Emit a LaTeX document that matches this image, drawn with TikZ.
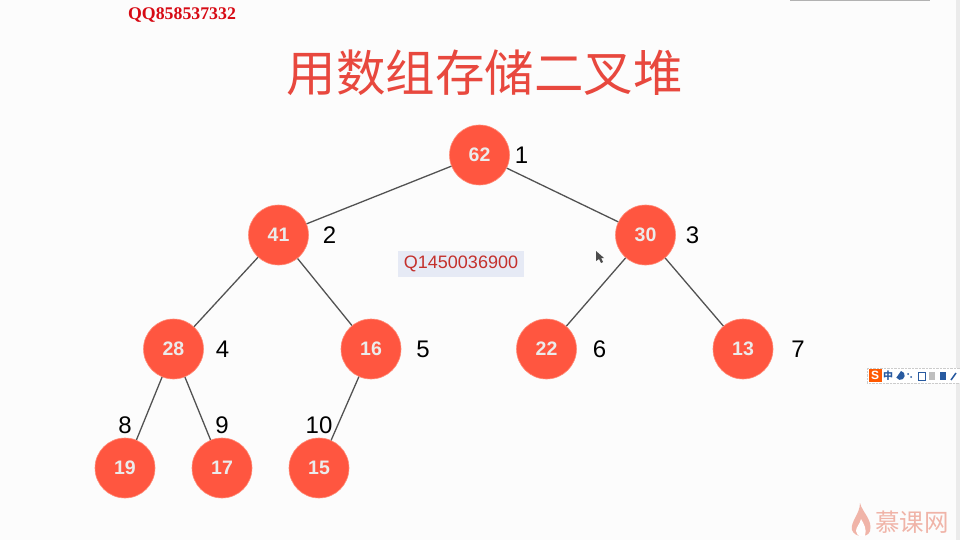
\documentclass[tikz,border=0pt]{standalone}
\usepackage{fontspec}
\setmainfont{Liberation Sans}
\newfontfamily\cjkfont{Noto Sans CJK SC}
\newfontfamily\serifbold[BoldFont={Liberation Serif Bold}]{Liberation Serif}
\usetikzlibrary{positioning}
\definecolor{heapred}{RGB}{255, 86, 64}
\definecolor{heapring}{RGB}{255, 140, 120}
\definecolor{titlered}{RGB}{232, 72, 62}
\definecolor{qqred}{RGB}{215, 10, 20}
\definecolor{tagblue}{RGB}{230, 234, 245}
\definecolor{tagred}{RGB}{196, 48, 44}
\definecolor{markpink}{RGB}{240, 180, 168}
\definecolor{barblue}{RGB}{40, 90, 160}
\tikzstyle{heapnode} = [circle, draw=heapring, line width=0.6pt, fill=heapred, text=white!92!black, text centered, font=\bfseries\fontsize{19.5}{20}\selectfont, minimum size = 60pt, inner sep=0pt]
\tikzstyle{textonly} = [draw=none, fill=none, text centered, inner sep=0pt, font=\fontsize{24}{24}\selectfont]
\tikzstyle{tedge}  = [draw, line width=1.3pt, black!68]
\tikzstyle{barglyph} = [inner sep=0pt, text=barblue, font=\cjkfont\bfseries\fontsize{10}{10}\selectfont]

\begin{document}
\begin{tikzpicture}[on grid]
\useasboundingbox[fill=white!99!black] (0pt,0pt) rectangle (960pt,-540pt);
\fill[black!8] (956pt,0pt) rectangle (960pt,-540pt);
\fill[black!30] (790pt,0pt) rectangle (930pt,-1.5pt);

% titles =============================
\node[inner sep=0pt, text=titlered, font=\cjkfont\fontsize{49.5}{50}\selectfont] (title) at (484.5pt,-73pt) {用数组存储二叉堆};
\node[inner sep=0pt, text=qqred, font=\serifbold\bfseries\fontsize{17.8}{18}\selectfont] (qq) at (182pt,-15.5pt) {QQ858537332};
\node[fill=tagblue, text=tagred, inner sep=0pt, minimum width=126pt, minimum height=26pt, font=\fontsize{18}{18}\selectfont] (tag) at (461pt,-264pt) {Q1450036900};

% heap nodes =============================
\node[heapnode] (n62) at (479.5pt,-155pt) {62};
\node[heapnode, below left=80pt and 201pt of n62] (n41) {41};
\node[heapnode, below right=80pt and 166pt of n62] (n30) {30};
\node[heapnode, below left=114pt and 105pt of n41] (n28) {28};
\node[heapnode, below right=114pt and 92.5pt of n41] (n16) {16};
\node[heapnode, below left=114pt and 99pt of n30] (n22) {22};
\node[heapnode, below right=114pt and 97.5pt of n30] (n13) {13};
\node[heapnode, below left=119pt and 48.5pt of n28] (n19) {19};
\node[heapnode, below right=119pt and 48.5pt of n28] (n17) {17};
\node[heapnode, below left=119pt and 52pt of n16] (n15) {15};

% indices
\node[textonly, right=42pt of n62] (i1) {1};
\node[textonly, right=51pt of n41] (i2) {2};
\node[textonly, right=47pt of n30] (i3) {3};
\node[textonly, right=49pt of n28] (i4) {4};
\node[textonly, right=52pt of n16] (i5) {5};
\node[textonly, right=53pt of n22] (i6) {6};
\node[textonly, right=55pt of n13] (i7) {7};
\node[textonly, above=43pt of n19] (i8) {8};
\node[textonly, above=43pt of n17] (i9) {9};
\node[textonly, above=43pt of n15] (i10) {10};

% edges
\path[tedge] (n62) -- (n41);
\path[tedge] (n62) -- (n30);
\path[tedge] (n41) -- (n28);
\path[tedge] (n41) -- (n16);
\path[tedge] (n30) -- (n22);
\path[tedge] (n30) -- (n13);
\path[tedge] (n28) -- (n19);
\path[tedge] (n28) -- (n17);
\path[tedge] (n16) -- (n15);

% pointer
\fill[black!70] (596pt,-251pt) -- (596pt,-261pt) -- (599pt,-259pt) -- (601pt,-263pt) -- (603pt,-262pt) -- (601pt,-258pt) -- (604pt,-258pt) -- cycle;

% input bar
\draw[black!20, densely dotted, fill=white] (867pt,-368pt) rectangle (960pt,-383pt);
\node[fill=orange!70!red, text=white, inner sep=0pt, minimum size=13pt, font=\bfseries\fontsize{12}{12}\selectfont] (bar0) at (875pt,-375.5pt) {S};
\node[barglyph] (bar1) at (888pt,-376pt) {中};
\fill[barblue] (901pt,-371pt) arc (80:-150:4.5pt) -- cycle;
\fill[barblue] (908pt,-374pt) circle (1pt) (911pt,-377pt) circle (1pt);
\draw[barblue, line width=1pt] (918pt,-372pt) rectangle (925pt,-380pt);
\fill[black!25] (929pt,-372pt) rectangle (935pt,-380pt);
\fill[barblue] (940pt,-372pt) rectangle (946pt,-380pt);
\draw[barblue, line width=1.5pt] (951pt,-380pt) -- (956pt,-373pt);

% watermark
\fill[markpink] (860pt,-503pt) .. controls (862pt,-512pt) and (873pt,-520pt) .. (870pt,-531pt) .. controls (868pt,-538pt) and (855pt,-538pt) .. (852pt,-530pt) .. controls (850pt,-522pt) and (860pt,-514pt) .. (860pt,-503pt) -- cycle;
\fill[white] (861pt,-519pt) .. controls (864pt,-524pt) and (867pt,-529pt) .. (865pt,-536pt) .. controls (861pt,-538pt) and (857pt,-536pt) .. (856pt,-531pt) .. controls (856pt,-527pt) and (860pt,-524pt) .. (861pt,-519pt) -- cycle;
\node[inner sep=0pt, text=markpink, font=\cjkfont\fontsize{24.5}{25}\selectfont] (logo) at (912pt,-522pt) {慕课网};
\end{tikzpicture}
\end{document}
